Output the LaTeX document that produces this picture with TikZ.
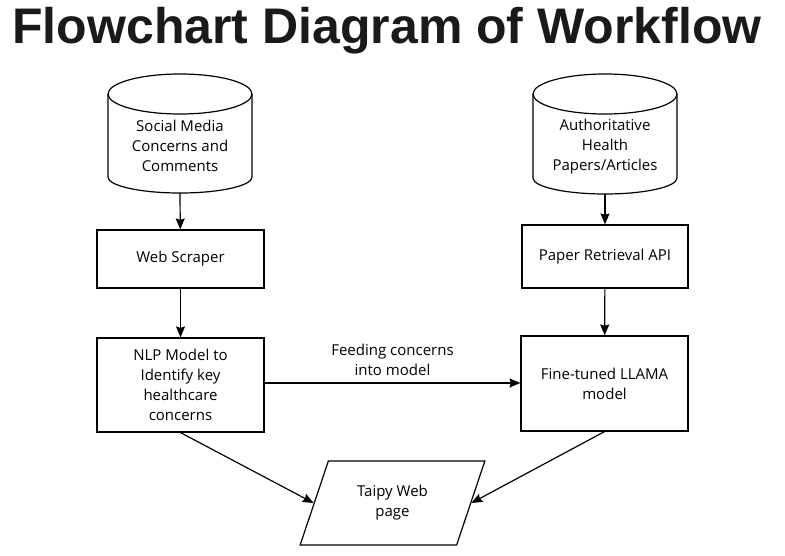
\documentclass[tikz,border=0pt]{standalone}
\usepackage{fontspec}
\setmainfont{Open Sans}
\newfontfamily\titlefont{Liberation Sans}
\usetikzlibrary{arrows.meta,shapes.geometric}
\begin{document}
\begin{tikzpicture}[x=1pt,y=-1pt,
    line width=1.2pt,
    every node/.style={font=\fontsize{15}{20}\selectfont,align=center},
    store/.style={draw=none},
    process/.style={draw,rectangle,inner sep=0pt},
    io/.style={draw,trapezium,trapezium left angle=66,trapezium right angle=114,
      trapezium stretches=true,minimum width=185pt,minimum height=84pt,inner sep=0pt},
    flow/.style={-{Stealth[length=11pt,width=9pt,inset=1.5pt]}}]
      \useasboundingbox (0,0) rectangle (785,555);
      \node (title) at (387,31) {\titlefont\bfseries\fontsize{50}{60}\selectfont\color[HTML]{1A1A1A}Flowchart Diagram of Workflow};
      % cylinders
      \draw (108,94) -- (108,177) arc[start angle=180,end angle=0,x radius=72,y radius=16] -- (252,94);
      \draw (180,94) ellipse[x radius=72,y radius=20];
      \draw (533,94) -- (533,178) arc[start angle=180,end angle=0,x radius=72,y radius=16] -- (677,94);
      \draw (605,94) ellipse[x radius=72,y radius=20];
      \draw
        (180,146) node[store] (social){Social Media\\Concerns and\\Comments}
        (605,147) node[store] (papers){Authoritative\\Health\\Papers/Articles}
        (180.5,259) node[process,minimum width=167pt,minimum height=58pt] (scraper){\raisebox{-1.5pt}{Web Scraper}}
        (180.5,385) node[process,minimum width=167pt,minimum height=94pt] (nlp){NLP Model to\\Identify key\\healthcare\\concerns}
        (605,256.5) node[process,minimum width=166pt,minimum height=63pt] (retrieval){\raisebox{-1.5pt}{Paper Retrieval API}}
        (604.5,383.5) node[process,minimum width=167pt,minimum height=95pt] (llama){Fine-tuned LLAMA\\model}
        (392.5,503) node[io] (taipy){Taipy Web\\page};
      \coordinate (socialbot) at (180,193);
      \coordinate (papersbot) at (605,194);
      \begin{scope}[flow]
        \draw (socialbot) to (scraper);
        \draw (scraper) to (nlp);
        \draw (papersbot) to (retrieval);
        \draw (retrieval) to (llama);
        \draw (nlp.east |- 0,383) to node[above=3pt] (feed){Feeding concerns\\into model} (llama.west |- 0,383);
        \draw (nlp.south) to (taipy.west);
        \draw (llama.south) to (taipy.east);
      \end{scope}
    \end{tikzpicture}
\end{document}
